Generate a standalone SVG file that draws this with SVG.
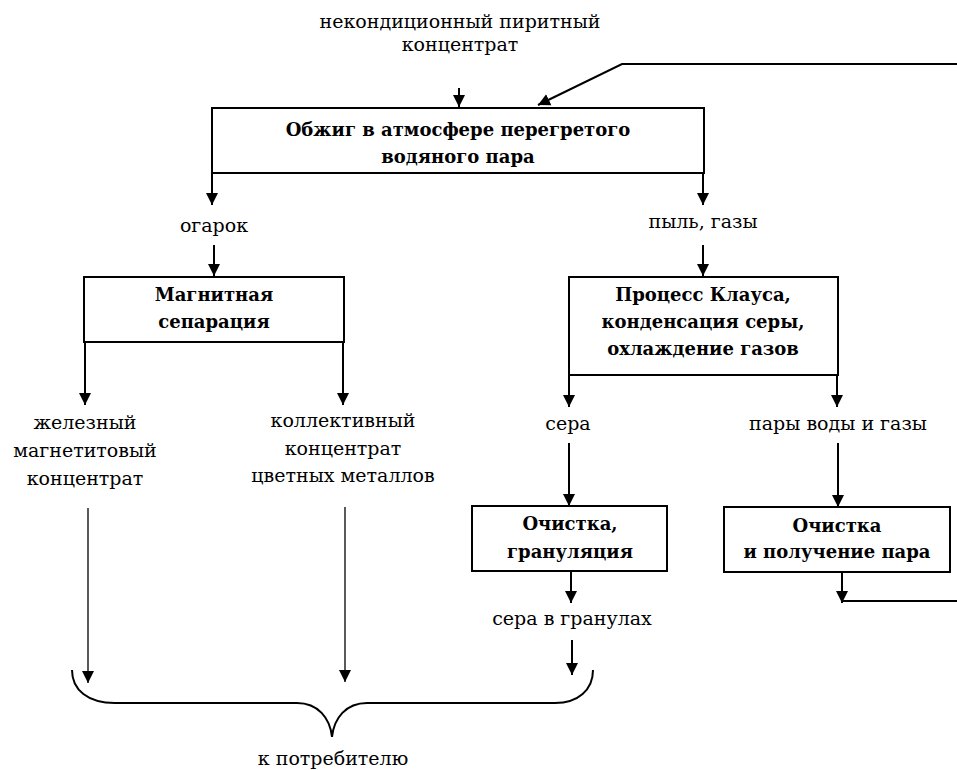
<svg xmlns="http://www.w3.org/2000/svg" width="957" height="770" viewBox="0 0 957 770">
<style>
text{font-family:'DejaVu Serif','Liberation Serif',serif;font-size:19px;fill:#000;text-anchor:middle}
.b{font-weight:bold;font-size:18px}
.box{fill:#fff;stroke:#000;stroke-width:2}
.c{fill:none;stroke:#000;stroke-width:2}
.t{fill:none;stroke:#000;stroke-width:1.3}
</style>
<defs>
<marker id="ah" markerUnits="userSpaceOnUse" markerWidth="12" markerHeight="14" viewBox="0 0 12 14" refX="12" refY="7" orient="auto">
<path d="M0,1 L12,7 L0,13 Z" fill="#000"/>
</marker>
</defs>
<g id="connectors">
<line class="c" x1="459" y1="88" x2="459" y2="107" marker-end="url(#ah)"/>
<polyline class="c" points="957,64 622,64 538,105" marker-end="url(#ah)"/>
<line class="c" x1="212" y1="173" x2="212" y2="205" marker-end="url(#ah)"/>
<line class="c" x1="703" y1="173" x2="703" y2="205" marker-end="url(#ah)"/>
<line class="c" x1="214" y1="245" x2="214" y2="276" marker-end="url(#ah)"/>
<line class="c" x1="703" y1="245" x2="703" y2="276" marker-end="url(#ah)"/>
<line class="c" x1="85" y1="342" x2="85" y2="405" marker-end="url(#ah)"/>
<line class="c" x1="343" y1="342" x2="343" y2="405" marker-end="url(#ah)"/>
<line class="c" x1="569" y1="375" x2="569" y2="407" marker-end="url(#ah)"/>
<line class="c" x1="837" y1="375" x2="837" y2="407" marker-end="url(#ah)"/>
<line class="c" x1="569" y1="443" x2="569" y2="506" marker-end="url(#ah)"/>
<line class="c" x1="838" y1="443" x2="838" y2="507" marker-end="url(#ah)"/>
<line class="c" x1="571" y1="571" x2="571" y2="603" marker-end="url(#ah)"/>
<line class="c" x1="842" y1="572" x2="842" y2="603" marker-end="url(#ah)"/>
<line class="c" x1="842" y1="601" x2="957" y2="601"/>
<line class="c" x1="572" y1="640" x2="572" y2="675" marker-end="url(#ah)"/>
<line class="t" x1="88" y1="508" x2="88" y2="683" marker-end="url(#ah)"/>
<line class="t" x1="345" y1="507" x2="345" y2="682" marker-end="url(#ah)"/>
<path class="c" d="M72,670 C72,690 88,703 115,703 L297,703 C318,703 330,718 332,737 C334,718 346,703 367,703 L555,703 C578,703 593,690 593,670"/>
</g>
<g id="n-input"><text x="460" y="28">некондиционный пиритный</text><text x="460" y="51">концентрат</text></g>
<g id="n-roast"><rect class="box" x="212" y="108" width="492" height="65"/><text class="b" x="458" y="136">Обжиг в атмосфере перегретого</text><text class="b" x="458" y="163">водяного пара</text></g>
<g id="n-ogarok"><text x="214" y="232">огарок</text></g>
<g id="n-dust"><text x="703" y="228">пыль, газы</text></g>
<g id="n-magsep"><rect class="box" x="84" y="277" width="260" height="65"/><text class="b" x="214" y="301">Магнитная</text><text class="b" x="214" y="328">сепарация</text></g>
<g id="n-claus"><rect class="box" x="569" y="277" width="269" height="98"/><text class="b" x="703" y="301">Процесс Клауса,</text><text class="b" x="703" y="328">конденсация серы,</text><text class="b" x="703" y="355">охлаждение газов</text></g>
<g id="n-iron"><text x="85" y="429">железный</text><text x="85" y="457">магнетитовый</text><text x="85" y="485">концентрат</text></g>
<g id="n-collective"><text x="343" y="427">коллективный</text><text x="343" y="455">концентрат</text><text x="343" y="482">цветных металлов</text></g>
<g id="n-sulfur"><text x="568" y="430">сера</text></g>
<g id="n-vapor"><text x="838" y="430">пары воды и газы</text></g>
<g id="n-granul"><rect class="box" x="472" y="506" width="195" height="65"/><text class="b" x="570" y="530">Очистка,</text><text class="b" x="570" y="558">грануляция</text></g>
<g id="n-steam"><rect class="box" x="724" y="507" width="226" height="65"/><text class="b" x="837" y="532">Очистка</text><text class="b" x="837" y="558">и получение пара</text></g>
<g id="n-granules"><text x="572" y="625">сера в гранулах</text></g>
<g id="n-consumer"><text x="333" y="765">к потребителю</text></g>
</svg>
